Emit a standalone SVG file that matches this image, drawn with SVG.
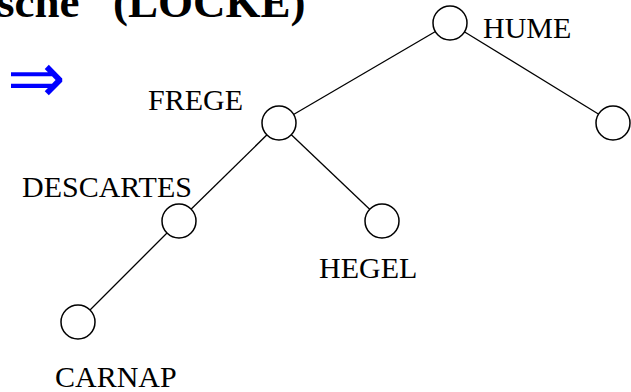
<svg xmlns="http://www.w3.org/2000/svg" width="631" height="392" viewBox="0 0 631 392">
  <style>
    .edge { stroke: #000; stroke-width: 1.3; fill: none; }
    .node { fill: #fff; stroke: #000; stroke-width: 1.5; }
    .label { font-family: "Liberation Serif", "Times New Roman", serif; font-size: 30px; fill: #000; }
    .title { font-family: "Liberation Serif", "Times New Roman", serif; font-size: 45px; font-weight: bold; fill: #000; }
    .arrow { font-family: "DejaVu Sans", sans-serif; font-size: 70px; fill: #0000ff; }
  </style>
  <rect width="631" height="392" fill="#fff"/>

  <!-- heading line, running off the top edge -->
  <text class="title" x="-3" y="17">sche<tspan x="113">(LOCKE)</tspan></text>
  <text class="arrow" x="7" y="102">⇒</text>

  <g id="connectors">
    <line class="edge" x1="450" y1="23" x2="279" y2="123"/>
    <line class="edge" x1="450" y1="23" x2="613" y2="123"/>
    <line class="edge" x1="279" y1="123" x2="179" y2="221"/>
    <line class="edge" x1="279" y1="123" x2="382" y2="221"/>
    <line class="edge" x1="179" y1="221" x2="78" y2="322"/>
  </g>

  <g id="hume">
    <circle class="node" cx="450" cy="23" r="17"/>
    <text class="label" x="483" y="38">HUME</text>
  </g>
  <g id="right-leaf">
    <circle class="node" cx="613" cy="123" r="17"/>
  </g>
  <g id="frege">
    <circle class="node" cx="279" cy="123" r="17"/>
    <text class="label" x="148" y="110">FREGE</text>
  </g>
  <g id="descartes">
    <circle class="node" cx="179" cy="221" r="17"/>
    <text class="label" x="22" y="197">DESCARTES</text>
  </g>
  <g id="hegel">
    <circle class="node" cx="382" cy="221" r="17"/>
    <text class="label" x="319" y="278">HEGEL</text>
  </g>
  <g id="carnap">
    <circle class="node" cx="78" cy="322" r="17"/>
    <text class="label" x="55" y="387">CARNAP</text>
  </g>
</svg>
